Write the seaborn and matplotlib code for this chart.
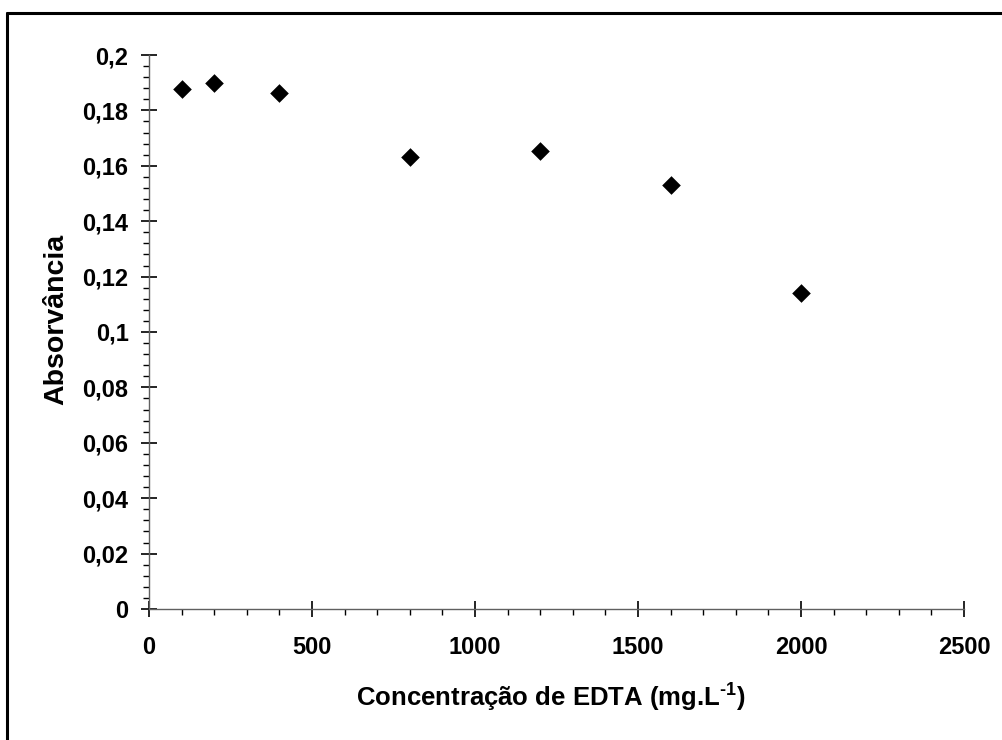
import matplotlib
matplotlib.use("Agg")
import matplotlib.pyplot as plt
import seaborn as sns
import pandas as pd
from matplotlib.lines import Line2D
from matplotlib.ticker import MultipleLocator, FixedLocator, FixedFormatter

# Data
concentracao = [100, 200, 400, 800, 1200, 1600, 2000]
absorvancia = [0.1877, 0.1900, 0.1864, 0.1633, 0.1655, 0.1531, 0.1142]
x_ticks = [0, 500, 1000, 1500, 2000, 2500]
x_tick_labels = ["0", "500", "1000", "1500", "2000", "2500"]
y_ticks = [0, 0.02, 0.04, 0.06, 0.08, 0.1, 0.12, 0.14, 0.16, 0.18, 0.2]
y_tick_labels = ["0", "0,02", "0,04", "0,06", "0,08", "0,1", "0,12", "0,14", "0,16", "0,18", "0,2"]

sns.set_style("ticks")
plt.rcParams["font.family"] = ["Liberation Sans", "DejaVu Sans"]
plt.rcParams["mathtext.fontset"] = "custom"
plt.rcParams["mathtext.rm"] = "Liberation Sans:bold"
plt.rcParams["mathtext.bf"] = "Liberation Sans:bold"
plt.rcParams["mathtext.default"] = "bf"
plt.rcParams["text.color"] = "black"
plt.rcParams["axes.labelcolor"] = "black"
plt.rcParams["xtick.color"] = "black"
plt.rcParams["ytick.color"] = "black"

df = pd.DataFrame({"x": concentracao, "y": absorvancia})

fig = plt.figure(figsize=(10.02, 7.40), dpi=100)
ax = fig.add_axes([149/1002, 1 - 609/740, (964-149)/1002, (609-55)/740])

sns.scatterplot(data=df, x="x", y="y", marker="D", color="black", s=90,
                edgecolor="black", linewidth=0, ax=ax, clip_on=False, zorder=5)

ax.set_xlim(0, 2500)
ax.set_ylim(0, 0.2)
ax.xaxis.set_major_locator(FixedLocator(x_ticks))
ax.xaxis.set_major_formatter(FixedFormatter(x_tick_labels))
ax.yaxis.set_major_locator(FixedLocator(y_ticks))
ax.yaxis.set_major_formatter(FixedFormatter(y_tick_labels))
ax.xaxis.set_minor_locator(MultipleLocator(100))
ax.yaxis.set_minor_locator(MultipleLocator(0.004))

for s in ["top", "right"]:
    ax.spines[s].set_visible(False)
for s in ["left", "bottom"]:
    ax.spines[s].set_color("#606060")
    ax.spines[s].set_linewidth(1.0)

ax.tick_params(which="major", direction="inout", length=11.5, width=1.2,
               color="black", labelcolor="black", labelsize=17, pad=9)
ax.tick_params(axis="x", which="major", pad=14)
ax.tick_params(which="minor", direction="out", length=4.5, width=1.0, color="black")
for lbl in ax.get_xticklabels() + ax.get_yticklabels():
    lbl.set_fontweight("bold")

ax.set_xlabel(r"Concentração de EDTA (mg.L$^{\text{-1}}$)", fontsize=18.5,
              fontweight="bold", color="black")
ax.set_ylabel("Absorvância", fontsize=20.5, fontweight="bold", color="black")
ax.xaxis.set_label_coords(0.493, -0.132)
ax.yaxis.set_label_coords(-0.098, 0.523)

# figure border (top and left visible)
lw = 2.2
fig.add_artist(Line2D([7/1002, 1.01], [1 - 13/740, 1 - 13/740], color="black", lw=lw,
                      transform=fig.transFigure))
fig.add_artist(Line2D([7/1002, 7/1002], [1 - 13/740, -0.01], color="black", lw=lw,
                      transform=fig.transFigure))

fig.savefig("out.png", dpi=100)
